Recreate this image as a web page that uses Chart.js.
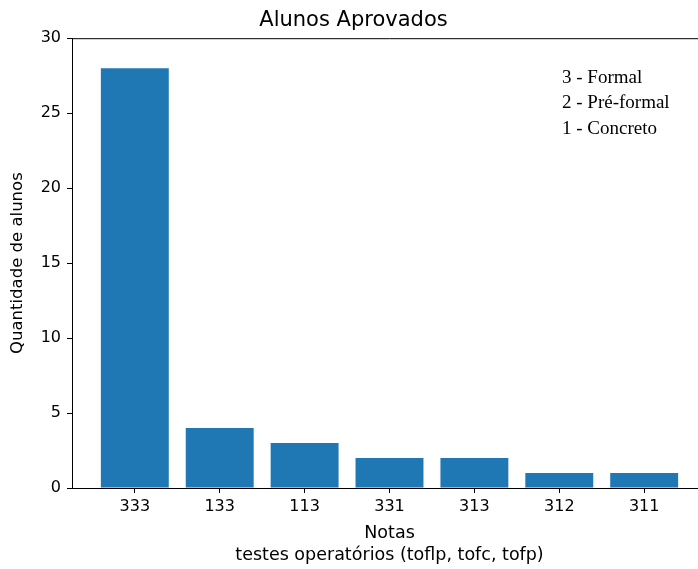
<!DOCTYPE html>
<html>
<head>
<meta charset="utf-8">
<script src="https://cdn.jsdelivr.net/npm/chart.js@4"></script>
<style>
  html, body { margin: 0; padding: 0; background: #fff; overflow: hidden; }
  #wrap { width: 712px; height: 569px; }
</style>
</head>
<body>
<div id="wrap"><canvas id="chart" width="712" height="569"></canvas></div>
<script>
var notas = ['333', '133', '113', '331', '313', '312', '311'];
var alunos = [28, 4, 3, 2, 2, 1, 1];
var yTicks = [0, 5, 10, 15, 20, 25, 30];
var legenda = ['3 - Formal', '2 - Pré-formal', '1 - Concreto'];

var sansFont = 'DejaVu Sans';

// text box in the upper right corner (serif, like the original)
var legendBox = {
    id: 'legendBox',
    afterDraw: function(chart) {
        var ctx = chart.ctx;
        ctx.save();
        ctx.fillStyle = '#000';
        ctx.font = '19px "Liberation Serif"';
        ctx.textBaseline = 'middle';
        ctx.textAlign = 'left';
        legenda.forEach(function(txt, i) {
            ctx.fillText(txt, 562, 78 + i * 25.5);
        });
        ctx.restore();
    }
};

// top and right spines
var frame = {
    id: 'frame',
    afterDraw: function(chart) {
        var a = chart.chartArea;
        var ctx = chart.ctx;
        ctx.save();
        ctx.strokeStyle = '#000';
        ctx.lineWidth = 1;
        ctx.beginPath();
        ctx.moveTo(a.left, a.top + 0.5);
        ctx.lineTo(a.right, a.top + 0.5);
        ctx.moveTo(a.right - 0.5, a.top);
        ctx.lineTo(a.right - 0.5, a.bottom);
        ctx.stroke();
        ctx.restore();
    }
};

var points = alunos.map(function(v, i) { return { x: i, y: v }; });

var ctx = document.getElementById('chart').getContext('2d');
var myChart = new Chart(ctx, {
    type: 'bar',
    data: {
        datasets: [{
            label: 'Alunos',
            data: points,
            backgroundColor: '#1f77b4',
            borderWidth: 0,
            inflateAmount: 0,
            barPercentage: 0.8,
            categoryPercentage: 1.0
        }]
    },
    plugins: [legendBox, frame],
    options: {
        responsive: false,
        animation: false,
        layout: { padding: { left: 0, right: 5, top: 0, bottom: 0 } },
        plugins: {
            legend: { display: false },
            tooltip: { enabled: false },
            title: {
                display: true,
                text: 'Alunos Aprovados',
                color: '#000',
                font: { family: sansFont, size: 21, weight: 'normal' },
                padding: { top: 8, bottom: 5 }
            }
        },
        scales: {
            x: {
                type: 'linear',
                min: -0.74,
                max: 6.74,
                offset: false,
                afterBuildTicks: function(s) {
                    s.ticks = notas.map(function(n, i) { return { value: i }; });
                },
                grid: { display: true, offset: false, drawOnChartArea: false, drawTicks: true, tickLength: 5, color: '#000' },
                border: { color: '#000', width: 1 },
                ticks: {
                    color: '#000',
                    font: { family: sansFont, size: 16 },
                    padding: 4,
                    maxRotation: 0,
                    autoSkip: false,
                    callback: function(v) { return notas[v]; }
                },
                title: {
                    display: true,
                    text: ['Notas', 'testes operatórios (toflp, tofc, tofp)'],
                    color: '#000',
                    font: { family: sansFont, size: 17.5, lineHeight: 1.27 },
                    padding: { top: 4, bottom: 2 }
                },
                afterFit: function(s) { s.height = 81; }
            },
            y: {
                min: 0,
                max: 30,
                afterBuildTicks: function(s) {
                    s.ticks = yTicks.map(function(v) { return { value: v }; });
                },
                grid: { display: true, drawOnChartArea: false, drawTicks: true, tickLength: 5, color: '#000' },
                border: { color: '#000', width: 1 },
                ticks: {
                    color: '#000',
                    font: { family: sansFont, size: 16 },
                    padding: 6
                },
                title: {
                    display: true,
                    text: 'Quantidade de alunos',
                    color: '#000',
                    font: { family: sansFont, size: 16.5 },
                    padding: { top: 8, bottom: 4 }
                },
                afterFit: function(s) { s.width = 72; }
            }
        }
    }
});
</script>
</body>
</html>
